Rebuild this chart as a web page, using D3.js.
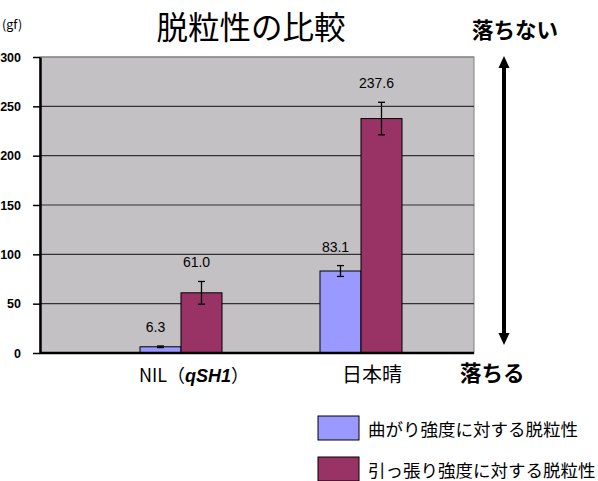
<!DOCTYPE html>
<html><head><meta charset="utf-8">
<script src="https://cdn.jsdelivr.net/npm/d3@7/dist/d3.min.js"></script>
<style>body{margin:0;background:#fff}svg{display:block}</style>
</head><body>
<svg id="c" width="598" height="481"></svg>
<script>
const categories = ["NIL", "日本晴"];
const seriesNames = ["曲がり強度に対する脱粒性", "引っ張り強度に対する脱粒性"];
const bendValues = [6.3, 83.1];
const bendErrors = [0.8, 5.5];
const pullValues = [61.0, 237.6];
const pullErrors = [11.5, 16.5];
const yTicks = [0, 50, 100, 150, 200, 250, 300];
const colors = ["#9999FF", "#993366"];

const svg = d3.select("#c");
const JP = "'Noto Sans CJK JP', sans-serif";
const AR = "'Liberation Sans', Arial, sans-serif";

const L = 40, R = 474, T = 57, B = 353;
const y = d3.scaleLinear().domain([0, 300]).range([B, T]);
const x = d3.scaleBand().domain(categories).range([91, 451]).padding(0);
const xs = d3.scaleBand().domain(seriesNames).range([-41, 41]).padding(0);

// plot background
svg.append("rect").attr("x", L).attr("y", T).attr("width", R - L).attr("height", B - T)
  .attr("fill", "#C3C1C4").attr("stroke", "#808080").attr("stroke-width", 1);

// gridlines
svg.append("g").selectAll("line").data(yTicks.filter(d => d > 0)).join("line")
  .attr("x1", L).attr("x2", R).attr("y1", d => y(d)).attr("y2", d => y(d))
  .attr("stroke", d => d === 300 ? "#808080" : "#333").attr("stroke-width", 1.2);

// y axis
const yAxis = d3.axisLeft(y).tickValues(yTicks).tickSize(7).tickPadding(12).tickSizeOuter(0);
const gy = svg.append("g").attr("transform", `translate(${L},0)`).call(yAxis);
gy.select(".domain").attr("stroke", "#000").attr("stroke-width", 2.5);
gy.selectAll(".tick line").attr("stroke", "#000").attr("stroke-width", 1.5);
gy.selectAll(".tick text").attr("font-family", AR).attr("font-size", 12.5).attr("font-weight", "bold").attr("fill", "#000");

// bars
const data = [];
categories.forEach((c, i) => {
  data.push({c, s: seriesNames[0], v: bendValues[i], e: bendErrors[i], col: colors[0]});
  data.push({c, s: seriesNames[1], v: pullValues[i], e: pullErrors[i], col: colors[1]});
});
const cx = d => x(d.c) + x.bandwidth() / 2 + xs(d.s);
svg.append("g").selectAll("rect").data(data).join("rect")
  .attr("x", d => cx(d)).attr("y", d => y(d.v)).attr("width", xs.bandwidth()).attr("height", d => y(0) - y(d.v))
  .attr("fill", d => d.col).attr("stroke", "#000").attr("stroke-width", 1);

// error bars
const eb = svg.append("g").attr("stroke", "#000").attr("stroke-width", 1.3);
data.forEach(d => {
  const mx = cx(d) + xs.bandwidth() / 2;
  eb.append("line").attr("x1", mx).attr("x2", mx).attr("y1", y(d.v + d.e)).attr("y2", y(d.v - d.e));
  eb.append("line").attr("x1", mx - 3.5).attr("x2", mx + 3.5).attr("y1", y(d.v + d.e)).attr("y2", y(d.v + d.e));
  eb.append("line").attr("x1", mx - 3.5).attr("x2", mx + 3.5).attr("y1", y(d.v - d.e)).attr("y2", y(d.v - d.e));
});

// value labels
svg.append("g").selectAll("text").data(data).join("text")
  .attr("x", d => cx(d) + xs.bandwidth() / 2 - 5)
  .attr("y", d => y(d.v + d.e) - 14)
  .attr("text-anchor", "middle").attr("font-family", AR).attr("font-size", 14).attr("fill", "#000")
  .text(d => d.v.toFixed(1));

// x axis line
svg.append("line").attr("x1", L).attr("x2", R).attr("y1", B).attr("y2", B)
  .attr("stroke", "#000").attr("stroke-width", 2.5);

// category labels
const catY = 382;
const t0 = svg.append("text").attr("x", x(categories[0]) + x.bandwidth() / 2 + 13).attr("y", catY)
  .attr("text-anchor", "middle").attr("font-family", JP).attr("font-size", 18).attr("fill", "#000");
t0.append("tspan").text("NIL（");
t0.append("tspan").attr("font-family", AR).attr("font-style", "italic").attr("font-weight", "bold").text("qSH1");
t0.append("tspan").text("）");
svg.append("text").attr("x", x(categories[1]) + x.bandwidth() / 2 + 11).attr("y", catY)
  .attr("text-anchor", "middle").attr("font-family", JP).attr("font-size", 20).attr("fill", "#000")
  .text(categories[1]);

// title
svg.append("text").attr("x", 251).attr("y", 39).attr("text-anchor", "middle")
  .attr("font-family", JP).attr("font-size", 31.5).attr("fill", "#000").text("脱粒性の比較");

// unit
svg.append("text").attr("x", 2).attr("y", 29).attr("font-family", JP).attr("font-size", 12.5).attr("fill", "#000").text("(gf)");

// arrow
const ax = 504;
svg.append("line").attr("x1", ax).attr("x2", ax).attr("y1", 64).attr("y2", 337)
  .attr("stroke", "#000").attr("stroke-width", 4);
svg.append("path").attr("d", `M${ax},56 L${ax - 5.5},68 L${ax + 5.5},68 Z`).attr("fill", "#000");
svg.append("path").attr("d", `M${ax},345 L${ax - 5.5},333 L${ax + 5.5},333 Z`).attr("fill", "#000");
svg.append("text").attr("x", 472).attr("y", 38).attr("font-family", JP).attr("font-size", 21.5)
  .attr("font-weight", "bold").attr("fill", "#000").text("落ちない");
svg.append("text").attr("x", 460).attr("y", 381).attr("font-family", JP).attr("font-size", 21.5)
  .attr("font-weight", "bold").attr("fill", "#000").text("落ちる");

// legend
const lg = svg.append("g");
seriesNames.forEach((s, i) => {
  const ly = [416, 457][i];
  lg.append("rect").attr("x", 318).attr("y", ly).attr("width", 41).attr("height", 24)
    .attr("fill", colors[i]).attr("stroke", "#000").attr("stroke-width", 1);
  lg.append("text").attr("x", 368).attr("y", ly + 20).attr("font-family", JP).attr("font-size", 17.5)
    .attr("fill", "#000").text(s);
});
</script>
</body></html>
